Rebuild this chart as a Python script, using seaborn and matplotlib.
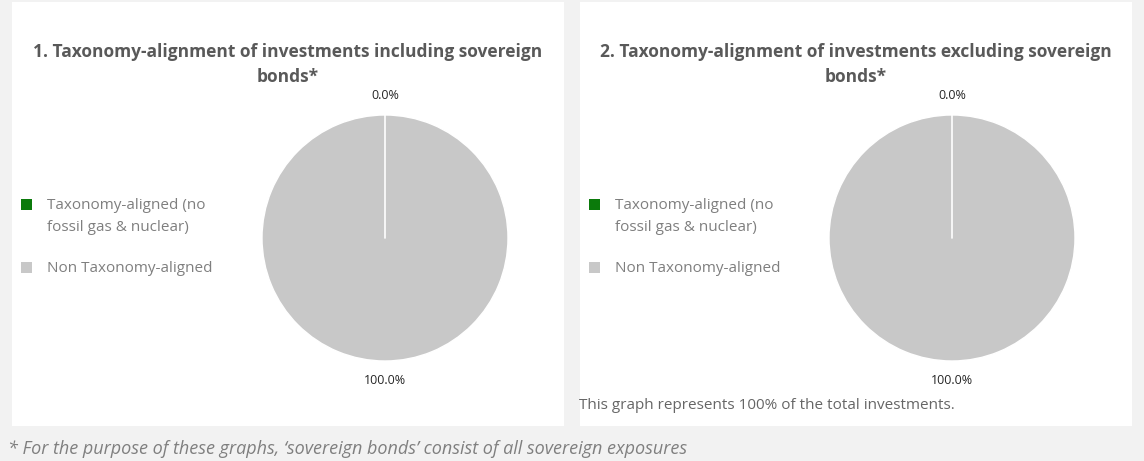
import numpy as np
import seaborn as sns
import matplotlib.pyplot as plt
from matplotlib.patches import Rectangle, Patch
from matplotlib.legend_handler import HandlerPatch

# data
categories = ['Taxonomy-aligned (no\nfossil gas & nuclear)', 'Non Taxonomy-aligned']
incl_sovereign = [0.0, 100.0]
excl_sovereign = [0.0, 100.0]
titles = ['1. Taxonomy-alignment of investments including sovereign\nbonds*',
          '2. Taxonomy-alignment of investments excluding sovereign\nbonds*']
colors = ['#0b7a0b', '#c8c8c8']
note = 'This graph represents 100% of the total investments.'
footnote = "* For the purpose of these graphs, \u2018sovereign bonds\u2019 consist of all sovereign exposures"

sns.set_theme(style='white')
plt.rcParams['font.family'] = ['Open Sans', 'DejaVu Sans']

W, H = 1144, 461
fig = plt.figure(figsize=(W / 100, H / 100), dpi=100)
fig.patch.set_facecolor('#f2f2f2')

def px(x0, y0, w, h):
    # pixel box (top-left origin) -> figure fraction
    return [x0 / W, 1 - (y0 + h) / H, w / W, h / H]

def square_top(legend, orig_handle, xdescent, ydescent, width, height, fontsize):
    # marker lined up with the first line of a two-line label
    return Rectangle((-xdescent, -ydescent + 0.8 * fontsize), width, height)

panels = [(12, 2, 552, 424), (580, 2, 552, 424)]
centers = [(385, 238), (952, 238)]
r = 123

for i, (vals, title) in enumerate(zip([incl_sovereign, excl_sovereign], titles)):
    x0, y0, w, h = panels[i]
    fig.patches.append(Rectangle((x0 / W, 1 - (y0 + h) / H), w / W, h / H,
                                 transform=fig.transFigure, facecolor='white',
                                 edgecolor='none', zorder=-1))
    fig.text((x0 + w / 2) / W, 1 - 43 / H, title, ha='center', va='top',
             fontsize=12.5, fontweight='bold', color='#595959', linespacing=1.5)

    cx, cy = centers[i]
    ax = fig.add_axes(px(cx - r, cy - r, 2 * r, 2 * r))
    ax.pie(vals, colors=colors, startangle=90, counterclock=False,
           autopct='%1.1f%%', pctdistance=1.16,
           wedgeprops=dict(edgecolor='white', linewidth=1),
           textprops=dict(fontsize=9, color='#262626'))
    # boundary of the 0% slice
    ax.axvline(0, ymin=0.5, ymax=1, color='white', lw=1.2)
    ax.set_xlim(-1, 1)
    ax.set_ylim(-1, 1)
    ax.axis('off')

    handles = [Patch(facecolor=c, edgecolor='none') for c in colors]
    leg = fig.legend(handles, categories, loc='upper left',
                     bbox_to_anchor=((x0 + 3) / W, 1 - 192 / H),
                     frameon=False, fontsize=11, labelcolor='#7f7f7f',
                     handlelength=0.72, handleheight=0.72, handletextpad=1.0,
                     labelspacing=1.75, borderaxespad=0,
                     handler_map={handles[0]: HandlerPatch(patch_func=square_top)})
    for t in leg.get_texts():
        t.set_linespacing(1.6)

fig.text(579 / W, 1 - 405 / H, note, ha='left', va='center',
         fontsize=11, color='#666666')
fig.text(8 / W, 1 - 449 / H, footnote, ha='left', va='center',
         fontsize=13, style='italic', color='#7f7f7f')

fig.savefig('out.png', dpi=100, facecolor=fig.get_facecolor())
